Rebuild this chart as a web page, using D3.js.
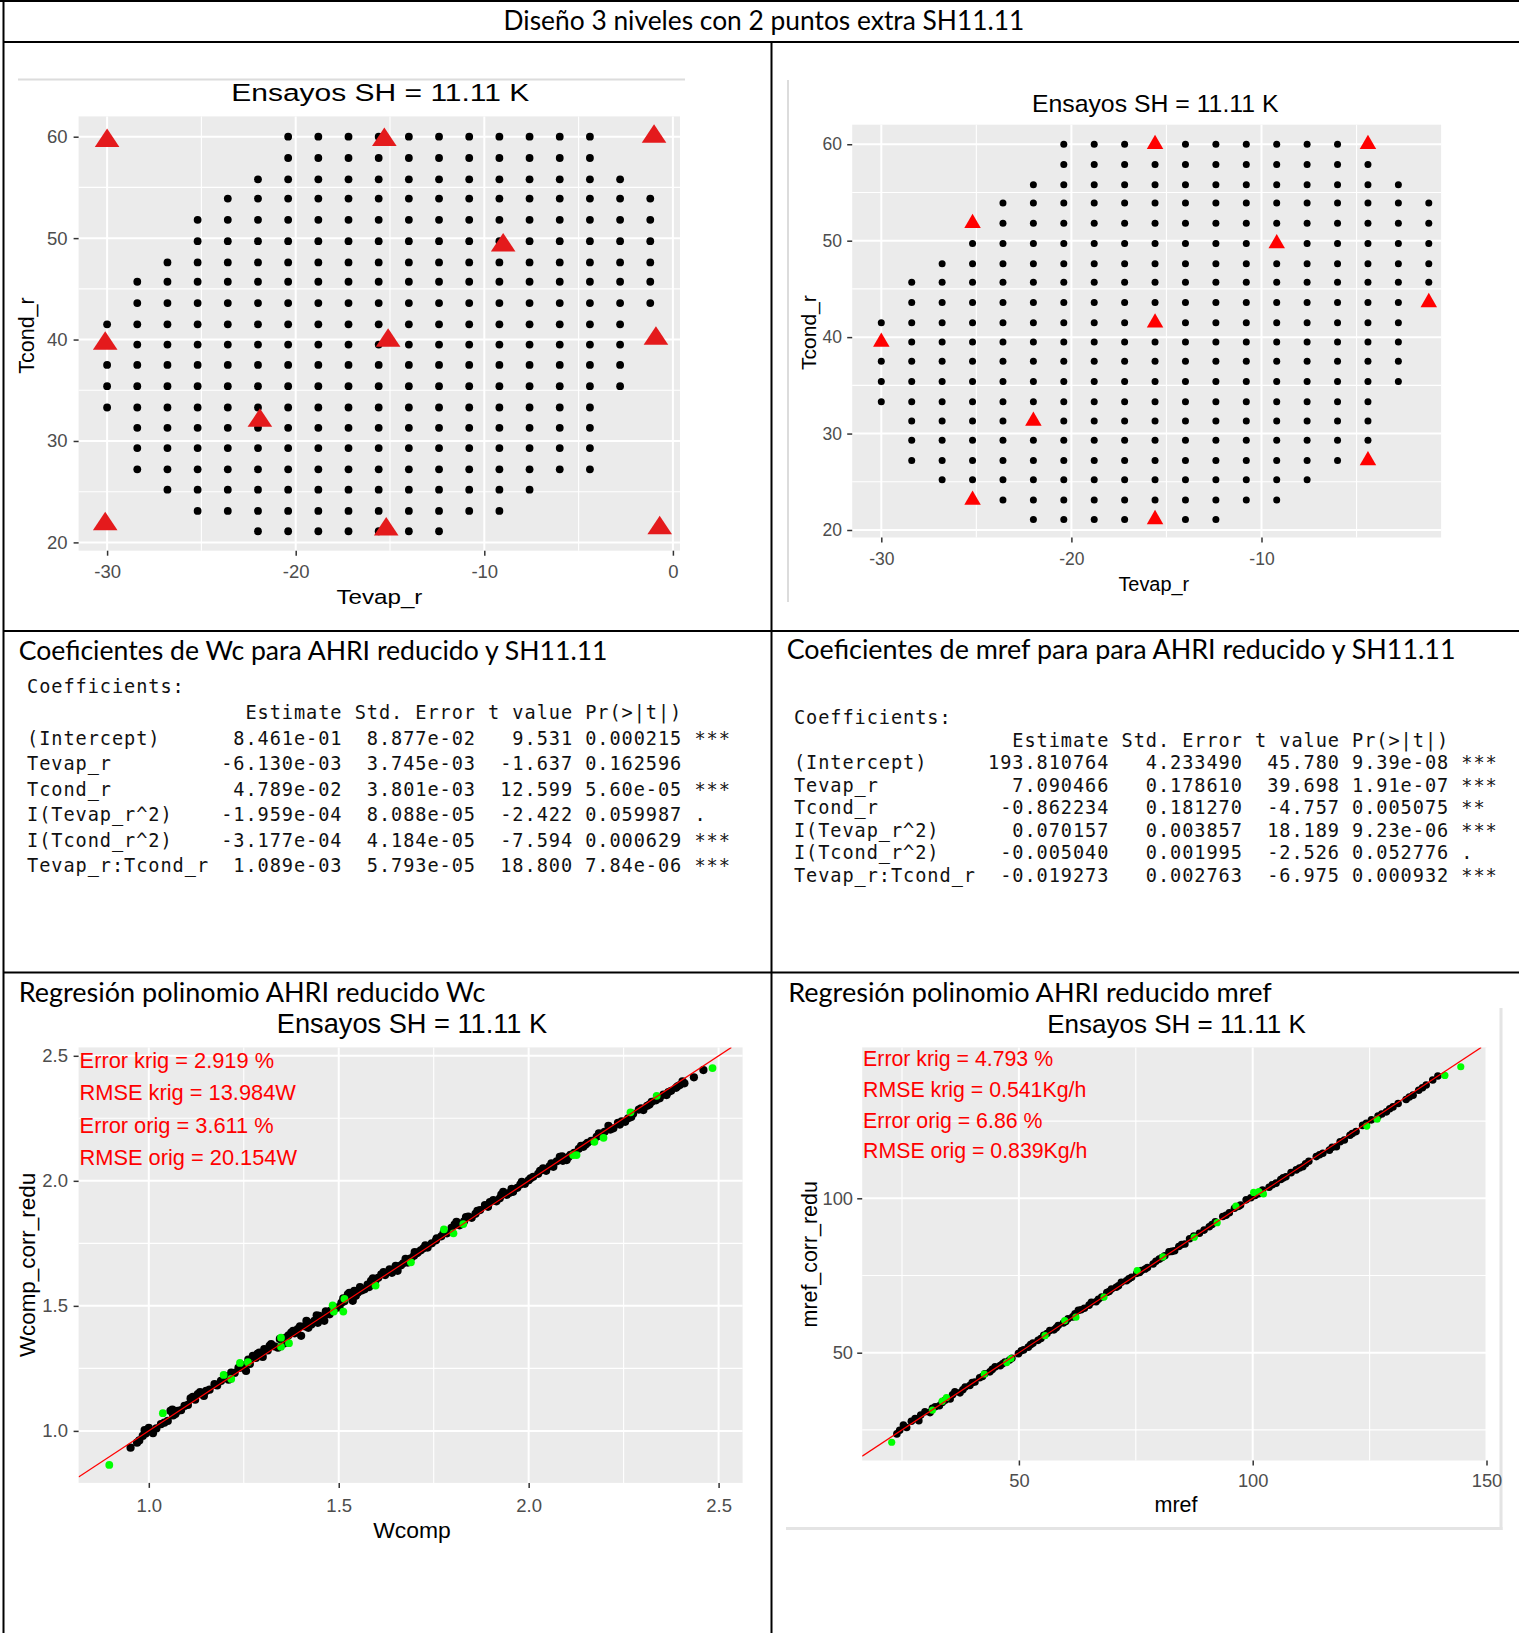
<!DOCTYPE html>
<html><head><meta charset="utf-8">
<script src="https://cdnjs.cloudflare.com/ajax/libs/d3/7.8.5/d3.min.js"></script>
<style>body{margin:0;background:#fff}svg{display:block}</style>
</head><body>
<script>
// ---------------- DATA ----------------
const mainTitle = "Diseño 3 niveles con 2 puntos extra SH11.11";
const plotTitle = "Ensayos SH = 11.11 K";
const sectionTitles = [
  "Coeficientes de Wc para AHRI reducido y SH11.11",
  "Coeficientes de mref para para AHRI reducido y SH11.11",
  "Regresión polinomio AHRI reducido Wc",
  "Regresión polinomio AHRI reducido mref"
];
// candidate grid (Tevap_r columns, Tcond_r rows) and which columns exist in each row
const tevapLevels = [-30,-28.4,-26.8,-25.2,-23.6,-22,-20.4,-18.8,-17.2,-15.6,-14,-12.4,-10.8,-9.2,-7.6,-6,-4.4,-2.8,-1.2];
const tcondLevels = [60,57.9,55.8,53.9,51.8,49.7,47.6,45.7,43.6,41.5,39.5,37.5,35.4,33.3,31.3,29.3,27.2,25.2,23.1,21.1];
const rowSpans = [[6,16],[6,16],[5,17],[4,18],[3,18],[3,18],[2,18],[1,18],[1,18],[0,17],[0,17],[0,17],[0,17],[0,16],[1,16],[1,16],[1,16],[2,14],[3,13],[5,11]];
// design points (red triangles)
const designLeft = [[-30,59.6],[-15.3,59.7],[-1.0,60.0],[-9.0,49.3],[-30.1,39.6],[-15.1,39.9],[-0.9,40.1],[-21.9,32.0],[-30.1,21.8],[-15.2,21.3],[-0.7,21.4]];
const designRight = [[-15.6,60.0],[-4.4,60.0],[-25.2,51.8],[-9.2,49.7],[-1.2,43.6],[-15.6,41.5],[-30,39.5],[-22,31.3],[-4.4,27.2],[-25.2,23.1],[-15.6,21.1]];
// axis ticks
const topXTicksL = [-30,-20,-10,0], topXTicksR = [-30,-20,-10], topYTicks = [20,30,40,50,60];
const wcTicks = [1.0,1.5,2.0,2.5], mrefXTicks = [50,100,150], mrefYTicks = [50,100];
// coefficient tables
const coefTerms = ["(Intercept)","Tevap_r","Tcond_r","I(Tevap_r^2)","I(Tcond_r^2)","Tevap_r:Tcond_r"];
const coefHeader = ["Estimate","Std. Error","t value","Pr(>|t|)"];
const wcEstimate = ["8.461e-01","-6.130e-03","4.789e-02","-1.959e-04","-3.177e-04","1.089e-03"];
const wcStdError = ["8.877e-02","3.745e-03","3.801e-03","8.088e-05","4.184e-05","5.793e-05"];
const wcTValue  = ["9.531","-1.637","12.599","-2.422","-7.594","18.800"];
const wcPValue  = ["0.000215","0.162596","5.60e-05","0.059987","0.000629","7.84e-06"];
const wcSignif  = ["***","","***",".","***","***"];
const mrefEstimate = ["193.810764","7.090466","-0.862234","0.070157","-0.005040","-0.019273"];
const mrefStdError = ["4.233490","0.178610","0.181270","0.003857","0.001995","0.002763"];
const mrefTValue  = ["45.780","39.698","-4.757","18.189","-2.526","-6.975"];
const mrefPValue  = ["9.39e-08","1.91e-07","0.005075","9.23e-06","0.052776","0.000932"];
const mrefSignif  = ["***","***","**","***",".","***"];
// regression annotations
const annotWc = ["Error krig = 2.919 %","RMSE krig = 13.984W","Error orig = 3.611 %","RMSE orig = 20.154W"];
const annotMref = ["Error krig = 4.793 %","RMSE krig = 0.541Kg/h","Error orig = 6.86 %","RMSE orig = 0.839Kg/h"];
// regression points [measured, polynomial]
const wcBlack = [[0.952,0.933],[0.969,0.953],[0.975,0.962],[0.984,0.980],[0.989,1.003],[0.992,0.990],[1.000,1.012],[1.011,0.991],[1.020,1.010],[1.032,1.027],[1.041,1.033],[1.050,1.040],[1.057,1.080],[1.062,1.085],[1.064,1.062],[1.070,1.068],[1.076,1.080],[1.085,1.083],[1.094,1.100],[1.103,1.104],[1.110,1.130],[1.116,1.136],[1.122,1.125],[1.129,1.147],[1.135,1.155],[1.140,1.148],[1.145,1.140],[1.151,1.160],[1.160,1.165],[1.173,1.187],[1.180,1.182],[1.190,1.200],[1.200,1.220],[1.203,1.212],[1.210,1.205],[1.217,1.233],[1.226,1.232],[1.236,1.252],[1.243,1.253],[1.250,1.262],[1.256,1.240],[1.262,1.285],[1.266,1.268],[1.274,1.300],[1.282,1.292],[1.286,1.308],[1.291,1.313],[1.298,1.305],[1.300,1.296],[1.304,1.327],[1.313,1.322],[1.318,1.340],[1.322,1.347],[1.331,1.338],[1.340,1.333],[1.345,1.368],[1.352,1.360],[1.356,1.350],[1.361,1.373],[1.368,1.382],[1.375,1.393],[1.380,1.400],[1.384,1.390],[1.392,1.407],[1.398,1.418],[1.401,1.380],[1.410,1.418],[1.415,1.440],[1.419,1.433],[1.420,1.412],[1.428,1.425],[1.436,1.440],[1.442,1.462],[1.445,1.432],[1.449,1.460],[1.456,1.452],[1.462,1.440],[1.466,1.478],[1.471,1.467],[1.476,1.466],[1.480,1.482],[1.490,1.488],[1.497,1.493],[1.502,1.495],[1.507,1.512],[1.512,1.530],[1.515,1.518],[1.524,1.546],[1.528,1.552],[1.532,1.540],[1.537,1.520],[1.541,1.560],[1.545,1.540],[1.550,1.552],[1.556,1.575],[1.560,1.561],[1.568,1.566],[1.576,1.585],[1.580,1.575],[1.585,1.600],[1.590,1.610],[1.596,1.598],[1.604,1.612],[1.612,1.626],[1.618,1.635],[1.622,1.623],[1.634,1.646],[1.640,1.632],[1.645,1.642],[1.650,1.660],[1.655,1.640],[1.664,1.662],[1.670,1.670],[1.676,1.688],[1.682,1.673],[1.690,1.690],[1.698,1.700],[1.700,1.715],[1.705,1.710],[1.708,1.713],[1.716,1.722],[1.723,1.730],[1.728,1.742],[1.734,1.733],[1.745,1.750],[1.756,1.762],[1.758,1.770],[1.770,1.778],[1.776,1.792],[1.785,1.790],[1.797,1.812],[1.805,1.825],[1.810,1.836],[1.818,1.822],[1.830,1.838],[1.835,1.855],[1.841,1.857],[1.850,1.852],[1.860,1.868],[1.865,1.880],[1.872,1.883],[1.885,1.903],[1.893,1.896],[1.898,1.915],[1.907,1.923],[1.915,1.918],[1.924,1.930],[1.928,1.945],[1.933,1.956],[1.942,1.944],[1.950,1.952],[1.955,1.968],[1.959,1.956],[1.970,1.972],[1.978,1.985],[1.982,1.996],[1.990,1.988],[2.000,2.002],[2.005,2.010],[2.012,2.016],[2.025,2.028],[2.030,2.040],[2.038,2.050],[2.046,2.040],[2.055,2.058],[2.060,2.070],[2.065,2.056],[2.074,2.078],[2.082,2.096],[2.088,2.098],[2.090,2.080],[2.100,2.083],[2.105,2.095],[2.110,2.104],[2.120,2.112],[2.132,2.128],[2.138,2.140],[2.144,2.136],[2.150,2.145],[2.155,2.152],[2.165,2.160],[2.179,2.176],[2.185,2.190],[2.190,2.180],[2.200,2.196],[2.210,2.220],[2.215,2.205],[2.223,2.210],[2.235,2.232],[2.240,2.225],[2.245,2.238],[2.254,2.236],[2.262,2.250],[2.270,2.255],[2.275,2.268],[2.290,2.285],[2.296,2.290],[2.302,2.283],[2.312,2.300],[2.318,2.305],[2.324,2.316],[2.335,2.322],[2.340,2.335],[2.345,2.330],[2.355,2.345],[2.363,2.343],[2.368,2.355],[2.375,2.360],[2.388,2.372],[2.392,2.378],[2.398,2.383],[2.405,2.398],[2.410,2.390],[2.435,2.414],[2.460,2.443]];
const wcGreen = [[0.896,0.864],[1.037,1.071],[1.197,1.224],[1.217,1.208],[1.240,1.272],[1.261,1.275],[1.348,1.373],[1.348,1.337],[1.369,1.351],[1.484,1.502],[1.487,1.477],[1.515,1.528],[1.512,1.477],[1.597,1.581],[1.690,1.674],[1.777,1.806],[1.802,1.790],[1.828,1.827],[2.117,2.103],[2.126,2.103],[2.173,2.156],[2.197,2.172],[2.268,2.274],[2.337,2.340],[2.484,2.451]];
const mrefBlack = [[23.9,23.7],[24.5,24.9],[25.3,26.6],[26.0,25.8],[27.0,27.8],[27.8,28.7],[28.6,28.0],[29.0,29.8],[29.9,30.9],[31.0,30.6],[31.5,32.0],[32.1,32.5],[33.0,32.8],[33.6,33.9],[34.2,34.6],[35.3,35.0],[35.8,36.4],[36.3,37.3],[37.4,37.0],[38.0,38.0],[38.5,38.9],[39.5,39.4],[40.0,40.3],[40.6,40.5],[41.6,41.9],[42.2,42.3],[42.7,43.2],[43.8,43.8],[44.3,44.6],[44.9,45.4],[46.0,45.8],[46.5,46.4],[47.0,47.0],[48.0,47.6],[48.5,48.2],[49.9,49.7],[50.5,50.6],[51.0,50.9],[52.0,51.8],[52.5,52.6],[53.0,53.1],[54.1,54.0],[54.7,54.6],[55.3,55.6],[56.0,56.2],[56.6,57.2],[57.5,57.4],[58.0,58.1],[58.4,58.8],[59.5,59.6],[60.0,60.1],[60.5,61.0],[61.5,61.6],[62.0,62.6],[62.7,63.7],[63.3,63.9],[64.0,64.4],[65.0,65.4],[65.5,66.3],[66.5,66.5],[67.0,67.3],[67.7,68.0],[68.8,69.5],[69.3,69.8],[69.8,70.6],[70.8,71.2],[71.3,71.7],[71.9,72.8],[73.0,73.3],[73.5,73.9],[74.1,74.4],[75.2,75.7],[75.8,76.0],[76.2,76.6],[77.0,77.1],[77.5,77.6],[78.7,78.7],[79.3,79.6],[80.0,80.3],[80.6,80.8],[81.2,81.4],[82.1,82.7],[82.7,82.8],[83.3,83.0],[84.2,84.4],[84.8,85.0],[85.5,85.2],[86.5,86.9],[87.4,87.8],[88.6,88.7],[89.6,89.7],[90.7,90.8],[91.3,91.5],[92.0,92.4],[93.6,94.1],[94.3,94.5],[95.0,95.3],[96.1,96.8],[97.0,97.4],[97.4,97.8],[98.6,99.5],[99.6,100.2],[100.5,100.9],[101.3,101.5],[102.1,102.7],[103.5,103.6],[104.2,104.4],[105.0,104.9],[106.0,106.1],[106.5,106.6],[107.1,107.0],[108.2,108.3],[109.3,109.2],[110.0,109.8],[110.7,110.2],[111.3,111.2],[112.0,112.0],[113.6,113.5],[114.3,114.1],[115.0,114.6],[116.4,115.6],[117.0,116.5],[117.9,116.7],[118.7,118.3],[119.6,118.9],[120.8,120.4],[121.3,121.0],[122.1,121.6],[123.5,123.6],[124.3,124.3],[125.4,125.4],[126.8,126.6],[127.6,127.3],[128.6,128.0],[129.3,129.0],[130.0,129.6],[131.1,130.7],[132.8,132.0],[133.5,132.8],[134.3,133.4],[135.5,135.0],[136.3,135.8],[137.1,136.7],[138.5,138.3],[139.6,139.6]];
const mrefGreen = [[22.8,21.0],[31.5,31.4],[33.6,34.3],[34.5,35.5],[42.6,43.1],[47.4,46.8],[48.3,48.1],[55.6,55.5],[59.8,60.4],[62.2,61.5],[68.2,68.0],[75.3,76.6],[80.8,81.0],[87.5,87.4],[92.4,92.1],[96.4,97.5],[100.2,101.9],[101.3,102.2],[102.3,101.4],[124.4,123.4],[126.6,125.6],[141.1,139.8],[144.5,142.6]];

// ---------------- DRAWING ----------------
const W = 1519, H = 1633;
const ARIAL = "'Liberation Sans', Arial, sans-serif";
const CAL = "Lato, 'Open Sans', sans-serif";
const MONO = "'DejaVu Sans Mono', 'Liberation Mono', monospace";
const svg = d3.select("body").append("svg").attr("width", W).attr("height", H);
svg.append("rect").attr("width", W).attr("height", H).attr("fill", "#fff");

function txt(parent, o) {
  const t = parent.append("text").attr("x", o.x).attr("y", o.y).text(o.t)
    .attr("font-family", o.family || ARIAL).attr("font-size", o.size || 16)
    .attr("fill", o.fill || "#000").attr("text-anchor", o.anchor || "start");
  if (o.rotate) t.attr("transform", `rotate(${o.rotate},${o.x},${o.y})`);
  if (o.len) t.attr("textLength", o.len).attr("lengthAdjust", "spacingAndGlyphs");
  if (o.fit) {
    t.attr("font-size", 100);
    const L = t.node().getComputedTextLength();
    t.attr("font-size", 100 * o.fit / L);
  }
  return t;
}

// table borders
const borders = svg.append("g").attr("stroke", "#000").attr("stroke-width", 2);
borders.append("line").attr("x1", 0).attr("x2", W).attr("y1", 1).attr("y2", 1);
borders.append("line").attr("x1", 3.5).attr("x2", 3.5).attr("y1", 0).attr("y2", H);
borders.append("line").attr("x1", 3).attr("x2", W).attr("y1", 42).attr("y2", 42);
borders.append("line").attr("x1", 771.5).attr("x2", 771.5).attr("y1", 42).attr("y2", H);
borders.append("line").attr("x1", 3).attr("x2", W).attr("y1", 631).attr("y2", 631);
borders.append("line").attr("x1", 3).attr("x2", W).attr("y1", 972.5).attr("y2", 972.5);

// word-style titles
txt(svg, {x: 503.6, y: 29.5, t: mainTitle, family: CAL, fit: 521});
txt(svg, {x: 18.7, y: 660, t: sectionTitles[0], family: CAL, fit: 589});
txt(svg, {x: 786.7, y: 659.3, t: sectionTitles[1], family: CAL, fit: 669});
txt(svg, {x: 18.7, y: 1001.7, t: sectionTitles[2], family: CAL, fit: 467});
txt(svg, {x: 788.2, y: 1001.7, t: sectionTitles[3], family: CAL, fit: 484});

// faint image frames
const frames = svg.append("g").attr("stroke", "#DCDCDC").attr("fill", "none");
frames.append("line").attr("x1", 18).attr("x2", 685).attr("y1", 79.5).attr("y2", 79.5).attr("stroke-width", 2);
frames.append("line").attr("x1", 788).attr("x2", 788).attr("y1", 80).attr("y2", 602).attr("stroke-width", 2);
frames.append("line").attr("x1", 1501).attr("x2", 1501).attr("y1", 1008).attr("y2", 1530).attr("stroke-width", 3).attr("stroke", "#E4E4E4");
frames.append("line").attr("x1", 786).attr("x2", 1502.5).attr("y1", 1528.5).attr("y2", 1528.5).attr("stroke-width", 3).attr("stroke", "#E4E4E4");

// ggplot-like panel
let clipId = 0;
function panel(cfg) {
  const [x0, y0, x1, y1] = cfg.panel;
  const g = svg.append("g");
  const xs = d3.scaleLinear().domain(cfg.xRef).range(cfg.xPix);
  const ys = d3.scaleLinear().domain(cfg.yRef).range(cfg.yPix);
  g.append("rect").attr("x", x0).attr("y", y0).attr("width", x1 - x0).attr("height", y1 - y0).attr("fill", "#EBEBEB");
  const grid = g.append("g").attr("stroke", "#fff");
  cfg.xMinor.forEach(v => grid.append("line").attr("x1", xs(v)).attr("x2", xs(v)).attr("y1", y0).attr("y2", y1).attr("stroke-width", cfg.minorW));
  cfg.yMinor.forEach(v => grid.append("line").attr("y1", ys(v)).attr("y2", ys(v)).attr("x1", x0).attr("x2", x1).attr("stroke-width", cfg.minorW));
  cfg.xMajor.forEach(v => grid.append("line").attr("x1", xs(v)).attr("x2", xs(v)).attr("y1", y0).attr("y2", y1).attr("stroke-width", cfg.majorW));
  cfg.yMajor.forEach(v => grid.append("line").attr("y1", ys(v)).attr("y2", ys(v)).attr("x1", x0).attr("x2", x1).attr("stroke-width", cfg.majorW));
  const tl = 5, fs = cfg.tickFont;
  const xa = d3.axisBottom(xs).tickValues(cfg.xMajor).tickSize(tl)
    .tickPadding(cfg.xLabelBase - y1 - 0.71 * fs - tl).tickFormat(cfg.fmt);
  const ya = d3.axisLeft(ys).tickValues(cfg.yMajor).tickSize(tl)
    .tickPadding(x0 - cfg.yLabelEnd - tl).tickFormat(cfg.fmt);
  [[xa, `translate(0,${y1})`], [ya, `translate(${x0},0)`]].forEach(([ax, tr]) => {
    const a = g.append("g").attr("transform", tr).call(ax);
    a.select(".domain").remove();
    a.attr("font-family", ARIAL).attr("font-size", fs);
    a.selectAll(".tick line").attr("stroke", "#333").attr("stroke-width", 1.5);
    a.selectAll(".tick text").attr("fill", "#4D4D4D");
  });
  const id = "clip" + (clipId++);
  g.append("clipPath").attr("id", id).append("rect").attr("x", x0).attr("y", y0).attr("width", x1 - x0).attr("height", y1 - y0);
  const inner = g.append("g").attr("clip-path", `url(#${id})`);
  return {g, inner, xs, ys, x0, y0, x1, y1};
}

function triPath(w, h) { return `M0,${-2 * h / 3}L${w / 2},${h / 3}L${-w / 2},${h / 3}Z`; }
const intFmt = d => String(d);

// grid points shared by both design plots
const gridPoints = [];
rowSpans.forEach((span, r) => {
  for (let c = span[0]; c <= span[1]; c++) gridPoints.push([tevapLevels[c], tcondLevels[r]]);
});

function designPlot(cfg, design, dotR, tri, triColor) {
  const p = panel(cfg);
  p.inner.selectAll("circle.g").data(gridPoints).join("circle")
    .attr("cx", d => p.xs(d[0])).attr("cy", d => p.ys(d[1])).attr("r", dotR).attr("fill", "#000");
  p.inner.selectAll("path.t").data(design).join("path")
    .attr("d", triPath(tri[0], tri[1])).attr("fill", triColor)
    .attr("transform", d => `translate(${p.xs(d[0])},${p.ys(d[1])})`);
  return p;
}

// Top-left
designPlot({
  panel: [78.6, 116.4, 680, 550.7], xRef: [-30, 0], xPix: [107.1, 672.9], yRef: [20, 60], yPix: [542.4, 136.7],
  xMajor: topXTicksL, xMinor: [-25, -15, -5], yMajor: topYTicks, yMinor: [25, 35, 45, 55],
  majorW: 2, minorW: 1.1, tickFont: 18.5, xLabelBase: 578, yLabelEnd: 67.5, fmt: intFmt
}, designLeft, 3.9, [24.6, 18.5], "#E41A1C");
txt(svg, {x: 380.3, y: 101.3, t: plotTitle, size: 23.7, anchor: "middle", len: 298});
txt(svg, {x: 379.4, y: 604, t: "Tevap_r", size: 20.5, anchor: "middle", len: 86});
txt(svg, {x: 34, y: 335.5, t: "Tcond_r", size: 21.5, anchor: "middle", rotate: -90});

// Top-right
designPlot({
  panel: [852.2, 124.7, 1441.1, 537.5], xRef: [-30, -10], xPix: [881.3, 1261.5], yRef: [20, 60], yPix: [530.0, 144.25],
  xMajor: topXTicksR, xMinor: [-25, -15, -5], yMajor: topYTicks, yMinor: [25, 35, 45, 55],
  majorW: 2, minorW: 1.1, tickFont: 17.5, xLabelBase: 565, yLabelEnd: 842, fmt: intFmt
}, designRight, 3.5, [16.5, 14.3], "#FF0000");
txt(svg, {x: 1155.2, y: 111.5, t: plotTitle, size: 24.8, anchor: "middle"});
txt(svg, {x: 1153.8, y: 591, t: "Tevap_r", size: 19.9, anchor: "middle"});
txt(svg, {x: 816, y: 332.6, t: "Tcond_r", size: 21, anchor: "middle", rotate: -90});

// Coefficient tables (R console output)
function coefLines(est, se, tv, pv, sig) {
  const lines = ["Coefficients:",
    " ".repeat(15) + " " + coefHeader[0].padStart(10) + " " + coefHeader[1].padStart(10) + " " +
    coefHeader[2].padStart(7) + " " + coefHeader[3].padStart(8)];
  coefTerms.forEach((n, i) => lines.push(n.padEnd(15) + " " + est[i].padStart(10) + " " + se[i].padStart(10) +
    " " + tv[i].padStart(7) + " " + pv[i].padStart(8) + " " + sig[i]));
  return lines;
}
function monoBlock(lines, x, baselines) {
  const g = svg.append("g").attr("font-family", MONO).attr("font-size", 18.6)
    .attr("letter-spacing", "0.94px").attr("fill", "#111");
  lines.forEach((l, i) => g.append("text").attr("x", x).attr("y", baselines[i])
    .attr("xml:space", "preserve").style("white-space", "pre").text(l));
}
monoBlock(coefLines(wcEstimate, wcStdError, wcTValue, wcPValue, wcSignif), 27,
  [692.7, 719.3, 744.8, 770.3, 795.8, 821.3, 846.8, 872.3]);
monoBlock(coefLines(mrefEstimate, mrefStdError, mrefTValue, mrefPValue, mrefSignif), 793.9,
  [724, 747.3, 769, 791.5, 814, 836.5, 859, 881.5]);

// Regression plots
function regPlot(cfg, black, green, r, annot, annotCfg) {
  const p = panel(cfg);
  p.inner.append("g").selectAll("circle").data(black).join("circle")
    .attr("cx", d => p.xs(d[0])).attr("cy", d => p.ys(d[1])).attr("r", r).attr("fill", "#000");
  p.inner.append("g").selectAll("circle").data(green).join("circle")
    .attr("cx", d => p.xs(d[0])).attr("cy", d => p.ys(d[1])).attr("r", r - 0.2).attr("fill", "#00FF00");
  const lo = Math.max(p.xs.invert(p.x0), p.ys.invert(p.y1));
  const hi = Math.min(p.xs.invert(p.x1), p.ys.invert(p.y0));
  p.inner.append("line").attr("x1", p.xs(lo)).attr("y1", p.ys(lo)).attr("x2", p.xs(hi)).attr("y2", p.ys(hi))
    .attr("stroke", "#FF0000").attr("stroke-width", 1.2);
  annot.forEach((a, i) => txt(svg, {x: annotCfg.x, y: annotCfg.base[i], t: a, size: annotCfg.size, fill: "#FF0000"}));
  return p;
}

regPlot({
  panel: [78.6, 1047.4, 742.6, 1482.9], xRef: [1, 2.5], xPix: [148.8, 718.6], yRef: [1, 2.5], yPix: [1430.9, 1055.8],
  xMajor: wcTicks, xMinor: [1.25, 1.75, 2.25], yMajor: wcTicks, yMinor: [1.25, 1.75, 2.25],
  majorW: 2, minorW: 1.1, tickFont: 18.5, xLabelBase: 1512, yLabelEnd: 68, fmt: d3.format(".1f")
}, wcBlack, wcGreen, 4.1, annotWc, {x: 79.6, base: [1068.1, 1099.8, 1132.8, 1165.3], size: 21.8});
txt(svg, {x: 412, y: 1033.4, t: plotTitle, size: 27.2, anchor: "middle"});
txt(svg, {x: 412, y: 1538, t: "Wcomp", size: 22.9, anchor: "middle"});
txt(svg, {x: 34.7, y: 1265, t: "Wcomp_corr_redu", size: 22.4, anchor: "middle", rotate: -90});

regPlot({
  panel: [862.2, 1047.4, 1486.5, 1460.5], xRef: [50, 150], xPix: [1018.9, 1486.5], yRef: [50, 100], yPix: [1352.7, 1198.3],
  xMajor: mrefXTicks, xMinor: [25, 75, 125], yMajor: mrefYTicks, yMinor: [25, 75, 125],
  majorW: 2, minorW: 1.1, tickFont: 18.3, xLabelBase: 1486.7, yLabelEnd: 853, fmt: intFmt
}, mrefBlack, mrefGreen, 3.8, annotMref, {x: 863.1, base: [1066.4, 1096.8, 1127.7, 1158.2], size: 21.3});
txt(svg, {x: 1176.5, y: 1033.4, t: plotTitle, size: 26, anchor: "middle"});
txt(svg, {x: 1176, y: 1512, t: "mref", size: 21.5, anchor: "middle"});
txt(svg, {x: 816.6, y: 1254.3, t: "mref_corr_redu", size: 21.4, anchor: "middle", rotate: -90});
</script>
</body></html>
